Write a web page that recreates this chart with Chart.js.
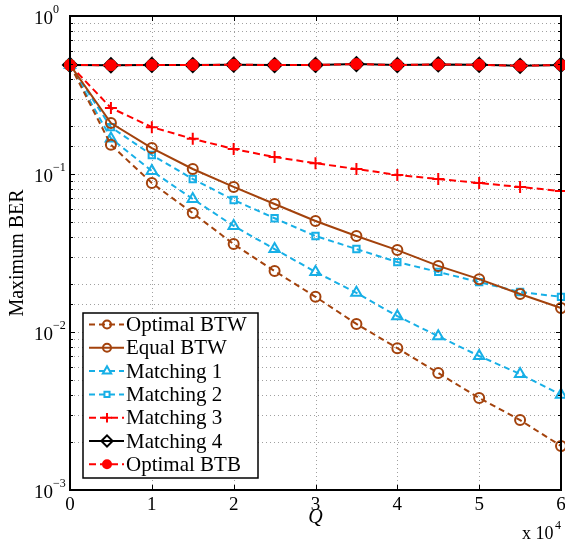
<!DOCTYPE html>
<html>
<head>
<meta charset="utf-8">
<script src="https://cdn.jsdelivr.net/npm/chart.js@4.4.1/dist/chart.umd.min.js"></script>
<style>
  html, body { margin: 0; padding: 0; background: #fff; }
  #wrap { width: 565px; height: 544px; }
</style>
</head>
<body>
<div id="wrap"><canvas id="berChart" width="565" height="544"></canvas></div>
<script>
// valores
const qValues = [0, 5000, 10000, 15000, 20000, 25000, 30000, 35000, 40000, 45000, 50000, 55000, 60000];
const optimalBTW = [0.49, 0.153, 0.0877, 0.0566, 0.036, 0.0243, 0.0167, 0.01125, 0.0079, 0.0055, 0.00382, 0.00277, 0.0019];
const equalBTW = [0.49, 0.21, 0.146, 0.1076, 0.0828, 0.0646, 0.0504, 0.0405, 0.033, 0.0262, 0.0216, 0.0174, 0.0142];
const matching1 = [0.49, 0.168, 0.1045, 0.0695, 0.0469, 0.0335, 0.024, 0.0177, 0.0126, 0.0094, 0.00705, 0.00542, 0.004];
const matching2 = [0.49, 0.198, 0.132, 0.093, 0.0685, 0.0525, 0.0405, 0.0335, 0.0277, 0.024, 0.0207, 0.0179, 0.0167];
const matching3 = [0.49, 0.262, 0.198, 0.167, 0.144, 0.128, 0.117, 0.1076, 0.0986, 0.093, 0.0877, 0.0828, 0.078];
const matching4 = [0.49, 0.488, 0.49, 0.489, 0.492, 0.489, 0.49, 0.496, 0.489, 0.494, 0.491, 0.484, 0.49];
const optimalBTB = [0.49, 0.488, 0.49, 0.489, 0.492, 0.489, 0.49, 0.496, 0.489, 0.494, 0.491, 0.484, 0.49];

const xTickLabels = ['0', '1', '2', '3', '4', '5', '6'];
const yTickExponents = ['0', '\u22121', '\u22122', '\u22123'];

const BROWN = '#a3420c';
const CYAN = '#17afe6';
const RED = '#ff0000';
const SERIF = '"Liberation Serif", "DejaVu Serif", serif';

function serie(label, data, color, dash, style, radius, fill) {
    return {
        label: label,
        data: data.map((v, i) => ({ x: qValues[i], y: v })),
        borderColor: color,
        borderWidth: 2,
        borderDash: dash,
        pointStyle: style,
        pointRadius: radius,
        pointBorderWidth: 2,
        pointBorderColor: color,
        pointBackgroundColor: fill,
        tension: 0,
        clip: 10,
        order: 1
    };
}

const datasets = [
    serie('Optimal BTW', optimalBTW, BROWN, [6, 4], 'circle', 5, 'rgba(0,0,0,0)'),
    serie('Equal BTW', equalBTW, BROWN, [], 'circle', 5, 'rgba(0,0,0,0)'),
    serie('Matching 1', matching1, CYAN, [6, 4], 'triangle', 6, 'rgba(0,0,0,0)'),
    serie('Matching 2', matching2, CYAN, [6, 4], 'rect', 4.5, 'rgba(0,0,0,0)'),
    serie('Matching 3', matching3, RED, [7, 4], 'cross', 6, RED),
    serie('Matching 4', matching4, '#000000', [], 'rectRot', 7, 'rgba(0,0,0,0)'),
    serie('Optimal BTB', optimalBTB, RED, [7, 4], 'circle', 5, RED)
];
// los puntos rojos van encima de los rombos negros
datasets[6].order = 0;

// rejilla punteada, marco, marcas y textos al estilo MATLAB
const matlabFrame = {
    id: 'matlabFrame',
    beforeDatasetsDraw(chart) {
        const { ctx, chartArea: a, scales: { x, y } } = chart;
        ctx.save();
        ctx.strokeStyle = '#a0a0a0';
        ctx.lineWidth = 1;
        ctx.setLineDash([1, 3]);
        x.ticks.forEach(t => {
            const px = Math.round(x.getPixelForValue(t.value)) + 0.5;
            ctx.beginPath(); ctx.moveTo(px, a.top); ctx.lineTo(px, a.bottom); ctx.stroke();
        });
        y.ticks.forEach(t => {
            const py = Math.round(y.getPixelForValue(t.value)) + 0.5;
            ctx.beginPath(); ctx.moveTo(a.left, py); ctx.lineTo(a.right, py); ctx.stroke();
        });
        ctx.restore();
    },
    afterDraw(chart) {
        const { ctx, chartArea: a, scales: { x, y } } = chart;
        ctx.save();
        ctx.strokeStyle = '#000';
        ctx.lineWidth = 1;
        ctx.setLineDash([]);
        // marcas hacia dentro
        x.ticks.forEach(t => {
            const px = Math.round(x.getPixelForValue(t.value)) + 0.5;
            ctx.beginPath();
            ctx.moveTo(px, a.bottom); ctx.lineTo(px, a.bottom - 5);
            ctx.moveTo(px, a.top); ctx.lineTo(px, a.top + 5);
            ctx.stroke();
        });
        y.ticks.forEach(t => {
            const lg = Math.log10(t.value);
            const major = Math.abs(lg - Math.round(lg)) < 1e-6;
            const len = major ? 5 : 3;
            const py = Math.round(y.getPixelForValue(t.value)) + 0.5;
            ctx.beginPath();
            ctx.moveTo(a.left, py); ctx.lineTo(a.left + len, py);
            ctx.moveTo(a.right, py); ctx.lineTo(a.right - len, py);
            ctx.stroke();
        });
        // marco
        ctx.lineWidth = 2;
        ctx.strokeRect(a.left, a.top, a.right - a.left, a.bottom - a.top);

        ctx.fillStyle = '#000';
        ctx.textBaseline = 'middle';

        // etiquetas del eje x
        ctx.font = '19px ' + SERIF;
        ctx.textAlign = 'center';
        x.ticks.forEach(t => {
            ctx.fillText(xTickLabels[Math.round(t.value / 10000)], x.getPixelForValue(t.value), a.bottom + 15);
        });

        // etiquetas del eje y: 10^n
        yTickExponents.forEach((e, i) => {
            const py = y.getPixelForValue(Math.pow(10, -i));
            ctx.font = '19px ' + SERIF;
            ctx.textAlign = 'left';
            ctx.fillText('10', 34, py + 3);
            ctx.font = '12px ' + SERIF;
            ctx.fillText(e, 53, py - 6);
        });

        // titulo eje y
        ctx.font = '20px ' + SERIF;
        ctx.textAlign = 'center';
        ctx.save();
        ctx.translate(18, (a.top + a.bottom) / 2);
        ctx.rotate(-Math.PI / 2);
        ctx.fillText('Maximum BER', 0, 0);
        ctx.restore();

        // titulo eje x y factor
        ctx.font = 'italic 20px ' + SERIF;
        ctx.fillText('Q', (a.left + a.right) / 2, 518);
        ctx.font = '18px ' + SERIF;
        ctx.textAlign = 'left';
        ctx.fillText('x 10', 522, 534);
        ctx.font = '12px ' + SERIF;
        ctx.fillText('4', 555, 526);

        // leyenda
        const lx = 83, ly = 313, lw = 175, lh = 165;
        ctx.fillStyle = '#fff';
        ctx.fillRect(lx, ly, lw, lh);
        ctx.lineWidth = 1.5;
        ctx.strokeStyle = '#000';
        ctx.strokeRect(lx, ly, lw, lh);
        const rows = [0, 1, 2, 3, 4, 5, 6];
        rows.forEach(i => {
            const ds = chart.data.datasets[i];
            const cy = ly + 11.5 + i * 23.3;
            ctx.strokeStyle = ds.borderColor;
            ctx.lineWidth = 2;
            ctx.setLineDash(ds.borderDash);
            ctx.beginPath(); ctx.moveTo(89, cy); ctx.lineTo(124, cy); ctx.stroke();
            ctx.setLineDash([]);
            ctx.fillStyle = ds.pointBackgroundColor;
            Chart.helpers.drawPoint(ctx, {
                pointStyle: ds.pointStyle,
                radius: ds.pointRadius * 0.8,
                rotation: 0,
                borderWidth: 2
            }, 107, cy);
            ctx.fillStyle = '#000';
            ctx.font = '21px ' + SERIF;
            ctx.textAlign = 'left';
            ctx.fillText(ds.label, 126, cy + 1);
        });
        ctx.restore();
    }
};

const ctx_ber = document.getElementById('berChart').getContext('2d');
const berChart = new Chart(ctx_ber, {
    type: 'line',
    data: { datasets: datasets },
    options: {
        responsive: false,
        animation: false,
        layout: { autoPadding: false, padding: { top: 16, right: 4, left: 0, bottom: 0 } },
        scales: {
            x: {
                type: 'linear',
                min: 0,
                max: 60000,
                ticks: { stepSize: 10000, display: false },
                grid: { display: false, drawTicks: false },
                border: { display: false },
                afterFit: (s) => { s.height = 54; }
            },
            y: {
                type: 'logarithmic',
                min: 0.001,
                max: 1,
                ticks: { display: false },
                grid: { display: false, drawTicks: false },
                border: { display: false },
                afterFit: (s) => { s.width = 70; }
            }
        },
        plugins: {
            legend: { display: false },
            tooltip: { enabled: false }
        }
    },
    plugins: [matlabFrame]
});
</script>
</body>
</html>
